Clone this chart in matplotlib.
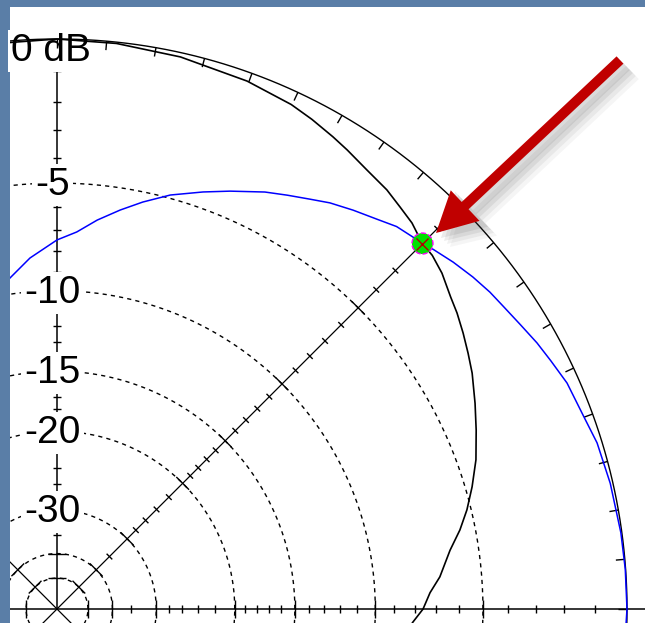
import numpy as np
import matplotlib.pyplot as plt
from matplotlib.collections import LineCollection
from matplotlib.patches import Circle, FancyArrow

# elevation pattern traces: angle (deg) / gain (dB, ARRL log scale)
blue_ang = [-5, 0, 4, 7.7, 12.8, 17.1, 20.1, 23.9, 26.7, 29.0, 31.5, 34.1, 36.2, 38.6, 41.2,
            43.7, 45.1, 46.3, 48.4, 50.6, 53.4, 56.1, 58.3, 60.9, 63.5, 67.5, 70.7, 74.7,
            78.1, 81.0, 84.1, 87.0, 90, 94.4, 98.1, 102]
blue_db = [-0.03, 0.0, -0.01, -0.03, -0.08, -0.15, -0.28, -0.37, -0.53, -0.65, -0.81, -0.95,
           -1.04, -1.18, -1.36, -1.56, -1.68, -1.75, -1.86, -2.10, -2.36, -2.62, -2.89,
           -3.18, -3.46, -3.97, -4.37, -4.87, -5.41, -5.91, -6.47, -7.07, -7.46, -8.27,
           -9.16, -10.0]
black_ang = [-5, -2.1, 0, 2.5, 4.8, 8.5, 11.1, 13.6, 16.4, 19.6, 23.1, 26.2, 29.6, 31.9, 34.2,
             36.5, 38.4, 41.1, 43.3, 45.1, 46.2, 47.4, 49.5, 51.8, 54.8, 57.7, 59.7, 62.5,
             65.1, 70.2, 77.4, 84, 90, 96, 102]
black_db = [-8.6, -8.07, -7.60, -7.26, -6.77, -6.19, -5.63, -5.17, -4.73, -4.26, -3.84, -3.46,
            -3.04, -2.80, -2.56, -2.33, -2.17, -1.88, -1.72, -1.68, -1.56, -1.43, -1.30,
            -1.14, -1.01, -0.83, -0.71, -0.55, -0.42, -0.27, -0.13, -0.04, 0.0, -0.04, -0.12]

ring_db = [-5, -10, -15, -20, -30, -40, -50]
ring_labels = ['-5', '-10', '-15', '-20', '-30']
minor_db = [-1, -2, -3, -4, -6, -7, -8, -9, -11, -12, -13, -14, -16, -17, -18, -19,
            -22, -24, -26, -28, -35]
radial_ang = [0, 45, 90, 135, 180]
deg_ticks = list(range(0, 181, 5))

cursor_ang = 45
cursor_db = -1.68

PX = 1 / 570.0  # one pixel in data units


def rad(db):
    # ARRL log scale: 0.89 per 2 dB
    return 0.89 ** (-np.asarray(db, dtype=float) / 2.0)


def xy(ang, db):
    a = np.radians(np.asarray(ang, dtype=float))
    r = rad(db)
    return r * np.cos(a), r * np.sin(a)


fig = plt.figure(figsize=(6.45, 6.23), dpi=100, facecolor='#5a7ea7')
ax = fig.add_axes([10 / 645, 0, 635 / 645, 616 / 623])
ax.set_facecolor('white')
ax.set_xlim(-47 * PX, 588 * PX)
ax.set_ylim(-14 * PX, 602 * PX)
ax.set_xticks([])
ax.set_yticks([])
for s in ax.spines.values():
    s.set_visible(False)

t = np.linspace(0, 2 * np.pi, 721)

# dashed dB rings
for db in ring_db:
    r = rad(db)
    ax.plot(r * np.cos(t), r * np.sin(t), color='black', lw=1.0,
            linestyle=(0, (3, 3)), zorder=1)

# radial lines: axes + 45/135 diagonals
ax.plot([-1.2, 1.2], [0, 0], color='black', lw=1.1, zorder=1)
ax.plot([0, 0], [0, 1], color='black', lw=1.1, zorder=1)
for a in (45, 135):
    c, s = np.cos(np.radians(a)), np.sin(np.radians(a))
    ax.plot([-1.2 * c, 1.0 * c], [-1.2 * s, 1.0 * s], color='black', lw=0.9, zorder=1)

segs = []
for a in radial_ang:
    ar = np.radians(a)
    c, s = np.cos(ar), np.sin(ar)
    px_, py_ = -s, c
    for db, half in [(d, 9) for d in ring_db] + [(d, 4) for d in minor_db]:
        r = rad(db)
        cx, cy = r * c, r * s
        h = half * PX
        segs.append([(cx - h * px_, cy - h * py_), (cx + h * px_, cy + h * py_)])
ax.add_collection(LineCollection(segs, colors='black', linewidths=1.0, zorder=1))

# dB labels
for lab, db in zip(ring_labels, ring_db):
    ax.text(-4.5 * PX, rad(db) - 12 * PX, lab, ha='center', va='baseline',
            fontsize=28, family='Liberation Sans', zorder=3,
            bbox=dict(boxstyle='square,pad=0.08', fc='white', ec='none'))
ax.text(-46 * PX, 1.0 - 22 * PX, '0 dB', ha='left', va='baseline',
        fontsize=28, family='Liberation Sans', zorder=3,
        bbox=dict(boxstyle='square,pad=0.08', fc='white', ec='none'))

# outer 0 dB circle with degree ticks
ax.plot(np.cos(t), np.sin(t), color='black', lw=1.0, zorder=4)
dsegs = []
for d in deg_ticks:
    c, s = np.cos(np.radians(d)), np.sin(np.radians(d))
    dsegs.append([(c, s), ((1 - 9 * PX) * c, (1 - 9 * PX) * s)])
ax.add_collection(LineCollection(dsegs, colors='black', linewidths=1.0, zorder=4))

# pattern traces
bx, by = xy(black_ang, black_db)
ax.plot(bx, by, color='black', lw=1.2, zorder=4)
ux, uy = xy(blue_ang, blue_db)
ax.plot(ux, uy, color='#0000ff', lw=1.1, zorder=5)

# cursor marker
mx, my = xy(cursor_ang, cursor_db)
ax.add_patch(Circle((mx, my), 10.5 * PX, facecolor='#00e000', edgecolor='#ff00ff',
                    linestyle='--', lw=1.0, zorder=6))
ax.plot(mx, my, marker='x', color='#b00000', ms=8, mew=1.0, zorder=7)

# red arrow with soft shadow
tail = ((620 - 57) * PX, (609 - 60) * PX)
tip = ((436 - 57) * PX, (609 - 233) * PX)
dx, dy = tip[0] - tail[0], tip[1] - tail[1]
for off, al in [(14, 0.05), (11, 0.07), (8, 0.09), (5, 0.1)]:
    ax.add_patch(FancyArrow(tail[0] + off * PX, tail[1] - off * PX, dx, dy,
                            width=14 * PX, head_width=48 * PX, head_length=42 * PX,
                            length_includes_head=True, color='#404040', alpha=al,
                            lw=0, zorder=7))
ax.add_patch(FancyArrow(tail[0], tail[1], dx, dy, width=10 * PX, head_width=42 * PX,
                        head_length=40 * PX, length_includes_head=True,
                        color='#c00000', lw=0, zorder=8))

fig.savefig('out.png', dpi=100, facecolor=fig.get_facecolor())
